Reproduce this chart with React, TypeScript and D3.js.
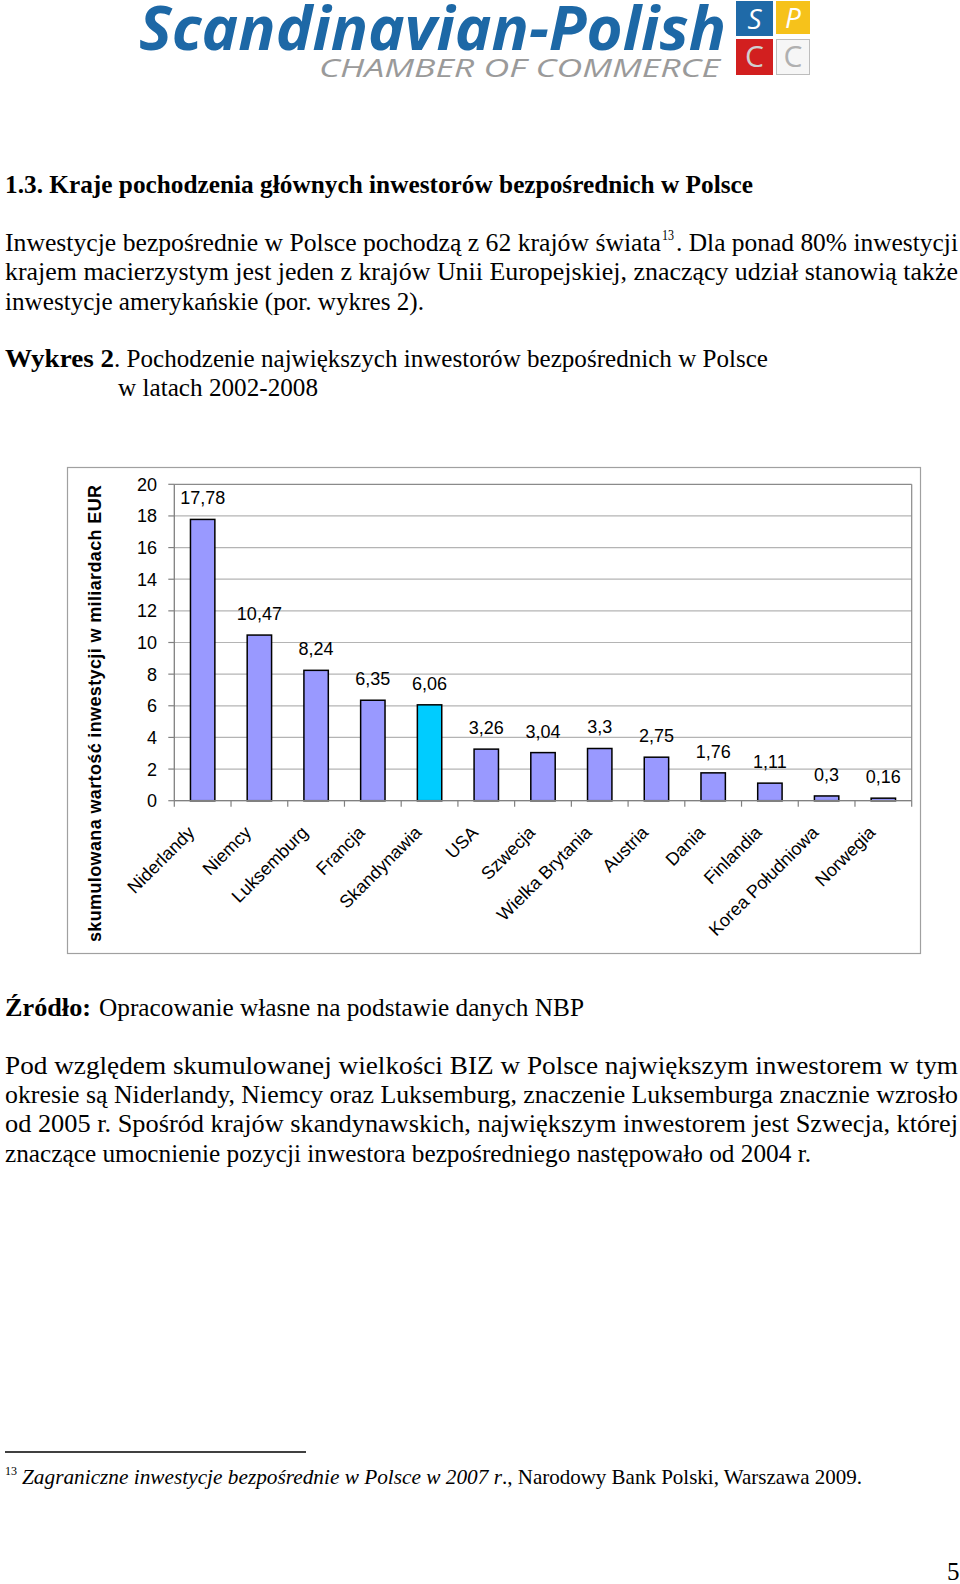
import React from "react";
import * as d3 from "d3";

const categories = [
  "Niderlandy",
  "Niemcy",
  "Luksemburg",
  "Francja",
  "Skandynawia",
  "USA",
  "Szwecja",
  "Wielka Brytania",
  "Austria",
  "Dania",
  "Finlandia",
  "Korea Południowa",
  "Norwegia",
];
const values = [17.78, 10.47, 8.24, 6.35, 6.06, 3.26, 3.04, 3.3, 2.75, 1.76, 1.11, 0.3, 0.16];
const highlighted = ["Skandynawia"];
const yTicks = [0, 2, 4, 6, 8, 10, 12, 14, 16, 18, 20];
const yTitle = "skumulowana wartość inwestycji w miliardach EUR";

const SERIF = "'Liberation Serif', 'Times New Roman', serif";
const SANS = "'Liberation Sans', Arial, sans-serif";

const PLOT = { left: 174.3, right: 911.7, top: 484.3, bottom: 800.7 };

const fmt = (v: number) => String(v).replace(".", ",");

function Line({ x, y, w, children, size = 25, weight = "normal", style = "normal" }: any) {
  return (
    <text
      x={x}
      y={y}
      fontFamily={SERIF}
      fontSize={size}
      fontWeight={weight}
      fontStyle={style}
      textLength={w}
      lengthAdjust="spacingAndGlyphs"
      fill="#000"
    >
      {children}
    </text>
  );
}

export default function App() {
  const x = d3
    .scaleBand<string>()
    .domain(categories)
    .range([PLOT.left, PLOT.right])
    .paddingInner(0.57)
    .paddingOuter(0.285);
  const y = d3.scaleLinear().domain([0, 20]).range([PLOT.bottom, PLOT.top]);
  const step = x.step();
  const bw = x.bandwidth();

  return (
    <svg
      width={960}
      height={1584}
      style={{ position: "absolute", left: 0, top: 0, background: "#fff" }}
    >
      <rect x={0} y={0} width={960} height={1584} fill="#fff" />

      {/* Logo */}
      <text
        x={139}
        y={50}
        fontFamily="'Open Sans', 'Noto Sans', sans-serif"
        fontWeight={700}
        fontStyle="italic"
        fontSize={61}
        fill="#1d68a6"
        textLength={587}
        lengthAdjust="spacingAndGlyphs"
      >
        Scandinavian-Polish
      </text>
      <text
        x={319}
        y={77}
        fontFamily="'Open Sans', 'Noto Sans', sans-serif"
        fontStyle="italic"
        fontSize={26}
        fill="#9a9a9a"
        textLength={401}
        lengthAdjust="spacingAndGlyphs"
      >
        CHAMBER OF COMMERCE
      </text>
      <rect x={736} y={1} width={37} height={35} fill="#1f6aa8" />
      <text x={754.5} y={29} textAnchor="middle" fontFamily="'Open Sans', sans-serif" fontStyle="italic" fontSize={28} fill="#fff">S</text>
      <rect x={776} y={1} width={34} height={33} fill="#f6c21b" />
      <text x={793} y={28} textAnchor="middle" fontFamily="'Open Sans', sans-serif" fontStyle="italic" fontSize={28} fill="#fff">P</text>
      <rect x={736} y={39} width={37} height={36} fill="#d21f1f" />
      <text x={754.5} y={67} textAnchor="middle" fontFamily="'Open Sans', sans-serif" fontSize={30} fill="#d0d0d0">C</text>
      <rect x={776.5} y={39.5} width={33} height={35} fill="#f6f6f6" stroke="#bdbdbd" strokeWidth={1} />
      <text x={793} y={67} textAnchor="middle" fontFamily="'Open Sans', sans-serif" fontSize={30} fill="#b0b0b0">C</text>

      {/* Heading & paragraph */}
      <Line x={5} y={192.5} w={748} weight="bold">
        1.3. Kraje pochodzenia głównych inwestorów bezpośrednich w Polsce
      </Line>
      <Line x={5} y={251} w={656}>
        Inwestycje bezpośrednie w Polsce pochodzą z 62 krajów świata
      </Line>
      <text x={662} y={240} fontFamily={SERIF} fontSize={15} textLength={12} lengthAdjust="spacingAndGlyphs">
        13
      </text>
      <Line x={676} y={251} w={282}>
        . Dla ponad 80% inwestycji
      </Line>
      <Line x={5} y={280.4} w={953}>
        krajem macierzystym jest jeden z krajów Unii Europejskiej, znaczący udział stanowią także
      </Line>
      <Line x={5} y={309.7} w={419}>
        inwestycje amerykańskie (por. wykres 2).
      </Line>

      <Line x={5} y={367.3} w={109} weight="bold">
        Wykres 2
      </Line>
      <Line x={114} y={367.3} w={654}>
        . Pochodzenie największych inwestorów bezpośrednich w Polsce
      </Line>
      <Line x={118} y={395.6} w={200}>
        w latach 2002-2008
      </Line>

      {/* Chart frame */}
      <rect x={67.5} y={467.5} width={853} height={486} fill="none" stroke="#a0a0a0" strokeWidth={1.2} />

      {/* Gridlines */}
      {yTicks.map((t) => (
        <line
          key={"g" + t}
          x1={PLOT.left}
          x2={PLOT.right}
          y1={y(t)}
          y2={y(t)}
          stroke={t === 20 ? "#8a8a8a" : "#b4b4b4"}
          strokeWidth={1.2}
        />
      ))}
      <line x1={PLOT.right} x2={PLOT.right} y1={PLOT.top} y2={PLOT.bottom} stroke="#8a8a8a" strokeWidth={1.2} />

      {/* Y axis */}
      <line x1={PLOT.left} x2={PLOT.left} y1={PLOT.top} y2={PLOT.bottom} stroke="#808080" strokeWidth={1.3} />
      {yTicks.map((t) => (
        <g key={"yt" + t}>
          <line x1={PLOT.left - 6} x2={PLOT.left} y1={y(t)} y2={y(t)} stroke="#808080" strokeWidth={1.2} />
          <text
            x={157}
            y={y(t) + 6.5}
            textAnchor="end"
            fontFamily={SANS}
            fontSize={18}
            fill="#000"
          >
            {t}
          </text>
        </g>
      ))}
      <text
        transform={`translate(101, 713.5) rotate(-90)`}
        textAnchor="middle"
        fontFamily={SANS}
        fontWeight="bold"
        fontSize={18}
        textLength={457}
        lengthAdjust="spacing"
        fill="#000"
      >
        {yTitle}
      </text>

      {/* Bars */}
      {categories.map((c, i) => (
        <rect
          key={"b" + c}
          x={x(c)!}
          y={y(values[i])}
          width={bw}
          height={y(0) - y(values[i])}
          fill={highlighted.includes(c) ? "#00ccff" : "#9999ff"}
          stroke="#000"
          strokeWidth={1.5}
        />
      ))}

      {/* X axis */}
      <line x1={PLOT.left} x2={PLOT.right} y1={PLOT.bottom} y2={PLOT.bottom} stroke="#808080" strokeWidth={1.3} />
      {d3.range(categories.length + 1).map((i) => (
        <line
          key={"xt" + i}
          x1={PLOT.left + i * step}
          x2={PLOT.left + i * step}
          y1={PLOT.bottom}
          y2={PLOT.bottom + 6}
          stroke="#808080"
          strokeWidth={1.2}
        />
      ))}

      {/* Value labels */}
      {categories.map((c, i) => (
        <text
          key={"v" + c}
          x={x(c)! + bw / 2}
          y={y(values[i]) - 15}
          textAnchor="middle"
          fontFamily={SANS}
          fontSize={18}
          fill="#000"
        >
          {fmt(values[i])}
        </text>
      ))}

      {/* Category labels */}
      {categories.map((c) => (
        <text
          key={"c" + c}
          transform={`translate(${x(c)! + bw / 2 - 7}, ${PLOT.bottom + 33}) rotate(-45)`}
          textAnchor="end"
          fontFamily={SANS}
          fontSize={18}
          fill="#000"
        >
          {c}
        </text>
      ))}

      {/* Source */}
      <Line x={5} y={1016} w={86} weight="bold">
        Źródło:
      </Line>
      <Line x={99} y={1016} w={485}>
        Opracowanie własne na podstawie danych NBP
      </Line>

      {/* Paragraph 2 */}
      <Line x={5} y={1073.7} w={953}>
        Pod względem skumulowanej wielkości BIZ w Polsce największym inwestorem w tym
      </Line>
      <Line x={5} y={1103} w={953}>
        okresie są Niderlandy, Niemcy oraz Luksemburg, znaczenie Luksemburga znacznie wzrosło
      </Line>
      <Line x={5} y={1132.3} w={953}>
        od 2005 r.  Spośród krajów skandynawskich, największym inwestorem jest Szwecja, której
      </Line>
      <Line x={5} y={1161.6} w={806}>
        znaczące umocnienie pozycji inwestora bezpośredniego następowało od 2004 r.
      </Line>

      {/* Footnote */}
      <line x1={5} x2={306} y1={1452} y2={1452} stroke="#000" strokeWidth={1.5} />
      <text x={5} y={1475} fontFamily={SERIF} fontSize={13} textLength={12} lengthAdjust="spacingAndGlyphs">
        13
      </text>
      <Line x={22} y={1484} w={480} size={21} style="italic">
        Zagraniczne inwestycje bezpośrednie w Polsce w 2007 r
      </Line>
      <Line x={502} y={1484} w={360} size={21}>
        ., Narodowy Bank Polski, Warszawa 2009.
      </Line>

      {/* Page number */}
      <text x={947} y={1580} fontFamily={SERIF} fontSize={25} fill="#000">
        5
      </text>
    </svg>
  );
}
